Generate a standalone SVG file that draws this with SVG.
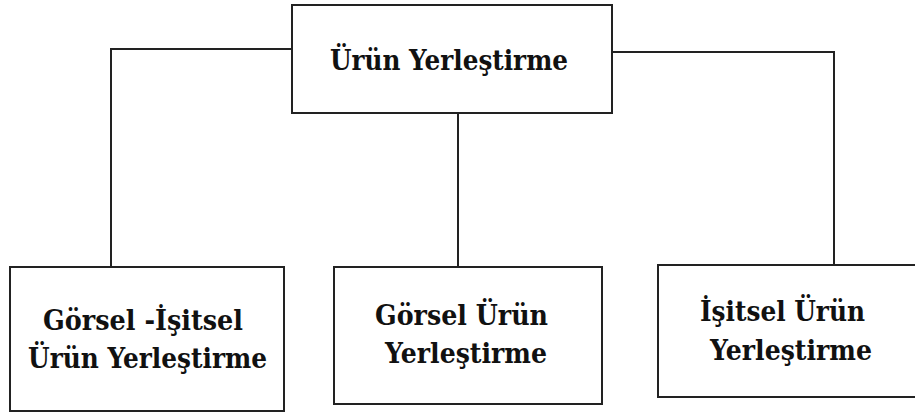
<svg xmlns="http://www.w3.org/2000/svg" width="915" height="414" viewBox="0 0 915 414">
<style>
.box{fill:#fff;stroke:#222;stroke-width:2}
.ln{fill:none;stroke:#222;stroke-width:2}
.t{font-family:'DejaVu Serif','Liberation Serif',serif;font-weight:bold;font-size:27px;fill:#111}
</style>
<rect width="915" height="414" fill="#fff"/>
<g id="connectors">
<polyline class="ln" points="292,49 111,49 111,267"/>
<polyline class="ln" points="612,52 834,52 834,265"/>
<line class="ln" x1="458" y1="113" x2="458" y2="267"/>
</g>
<g id="node-root">
<rect class="box" x="292" y="5" width="320" height="108"/>
<text class="t" x="330" y="70" textLength="238" lengthAdjust="spacingAndGlyphs">Ürün Yerleştirme</text>
</g>
<g id="node-gorsel-isitsel">
<rect class="box" x="10" y="267" width="274" height="144"/>
<text class="t" x="43" y="330" textLength="200" lengthAdjust="spacingAndGlyphs">Görsel -İşitsel</text>
<text class="t" x="28" y="368" textLength="239" lengthAdjust="spacingAndGlyphs">Ürün Yerleştirme</text>
</g>
<g id="node-gorsel">
<rect class="box" x="334" y="267" width="268" height="137"/>
<text class="t" x="375" y="325" textLength="173" lengthAdjust="spacingAndGlyphs">Görsel Ürün</text>
<text class="t" x="385" y="363" textLength="162" lengthAdjust="spacingAndGlyphs">Yerleştirme</text>
</g>
<g id="node-isitsel">
<rect class="box" x="658" y="265" width="270" height="132"/>
<text class="t" x="700" y="321" textLength="165" lengthAdjust="spacingAndGlyphs">İşitsel Ürün</text>
<text class="t" x="710" y="360" textLength="162" lengthAdjust="spacingAndGlyphs">Yerleştirme</text>
</g>
</svg>
